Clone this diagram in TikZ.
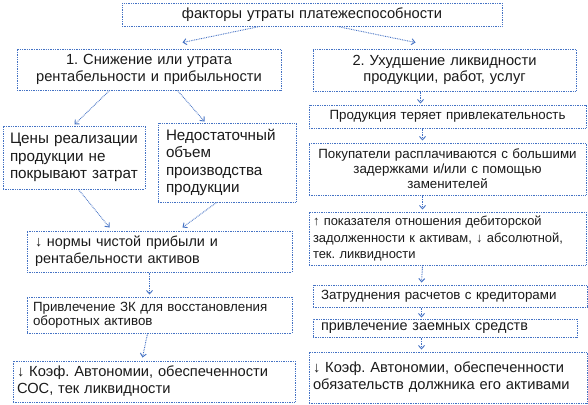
\documentclass[tikz,border=0pt]{standalone}
\usepackage{fontspec}
\setmainfont{Liberation Sans}
\usetikzlibrary{calc,arrows.meta}
\definecolor{bl}{HTML}{4472C4}
\definecolor{tx}{HTML}{1A1A1A}
\frenchspacing
\tikzset{
  box/.style={draw=bl, dash pattern=on 0.6pt off 0.7pt, line width=0.75pt, inner sep=0pt, text=tx},
  conn/.style={draw=bl, dash pattern=on 0.6pt off 0.7pt, line width=0.7pt, -{Straight Barb[length=2.5pt,width=4.5pt]}},
}
\begin{document}
\begin{tikzpicture}[x=0.75pt,y=-0.75pt]
\useasboundingbox (0,0) rectangle (588,404);
% top
\node[box, minimum width=380*0.75pt, minimum height=23*0.75pt, text width=370*0.75pt, align=center, font=\fontsize{11}{12.5}\selectfont] (T) at (312,14.5) {факторы утраты платежеспособности};
\node[box, minimum width=264*0.75pt, minimum height=41*0.75pt, text width=254*0.75pt, align=center, font=\fontsize{11}{12.5}\selectfont] (B1) at (149,69.5) {1. Снижение или утрата\\ рентабельности и прибыльности};
\node[box, minimum width=263*0.75pt, minimum height=42*0.75pt, text width=253*0.75pt, align=center, font=\fontsize{11}{12.5}\selectfont] (B2) at (444.5,70) {2. Ухудшение ликвидности\\ продукции, работ, услуг};
% left column
\node[box, minimum width=142*0.75pt, minimum height=63*0.75pt, inner xsep=7*0.75pt, text width=128*0.75pt, align=left, font=\fontsize{11.4}{13.2}\selectfont] (L1) at (74,157.5) {Цены реализации\\ продукции не\\ покрывают затрат};
\node[box, minimum width=138*0.75pt, minimum height=79*0.75pt, inner xsep=8*0.75pt, text width=122*0.75pt, align=left, font=\fontsize{11.4}{13.2}\selectfont] (L2) at (227,162.5) {Недостаточный\\ объем\\ производства\\ продукции};
\node[box, minimum width=265*0.75pt, minimum height=41*0.75pt, inner xsep=8*0.75pt, text width=249*0.75pt, align=left, font=\fontsize{10.8}{12.6}\selectfont] (L3) at (159.5,251.5) {↓ нормы чистой прибыли и\\ рентабельности активов};
\node[box, minimum width=265*0.75pt, minimum height=36*0.75pt, inner xsep=6*0.75pt, text width=253*0.75pt, align=left, font=\fontsize{10}{10.8}\selectfont] (L4) at (159.5,315) {Привлечение ЗК для восстановления\\ оборотных активов};
\node[box, minimum width=282*0.75pt, minimum height=41*0.75pt, inner xsep=4*0.75pt, text width=274*0.75pt, align=left, font=\fontsize{11}{12.8}\selectfont] (L5) at (154,381.5) {↓ Коэф. Автономии, обеспеченности\\ СОС, тек ликвидности};
% right column
\node[box, minimum width=277*0.75pt, minimum height=23*0.75pt, text width=267*0.75pt, align=center, font=\fontsize{10}{11.5}\selectfont] (R1) at (447.5,116.5) {Продукция теряет привлекательность};
\node[box, minimum width=277*0.75pt, minimum height=52*0.75pt, text width=267*0.75pt, align=center, font=\fontsize{10}{11.3}\selectfont] (R2) at (447.5,169) {Покупатели расплачиваются с большими\\ задержками и/или с помощью\\ заменителей};
\node[box, minimum width=277*0.75pt, minimum height=53*0.75pt, inner xsep=4*0.75pt, text width=269*0.75pt, align=left, font=\fontsize{9.7}{12.2}\selectfont] (R3) at (447.5,238.5) {↑ показателя отношения дебиторской\\ задолженности к активам, ↓ абсолютной,\\ тек. ликвидности};
\node[box, minimum width=274*0.75pt, minimum height=22*0.75pt, inner xsep=8*0.75pt, text width=258*0.75pt, align=left, font=\fontsize{10}{11}\selectfont] (R4) at (450,296) {Затруднения расчетов с кредиторами};
\node[box, minimum width=264*0.75pt, minimum height=18*0.75pt, inner xsep=8*0.75pt, text width=248*0.75pt, align=left, font=\fontsize{10.8}{12}\selectfont] (R5) at (445,328) {привлечение заемных средств};
\node[box, minimum width=278*0.75pt, minimum height=51*0.75pt, inner xsep=4*0.75pt, text width=270*0.75pt, align=left, font=\fontsize{11}{12.8}\selectfont] (R6) at (448,377.5) {↓ Коэф. Автономии, обеспеченности\\ обязательств должника его активами};
% connectors
\draw[conn] ($(T.south west)+(138,0)$) -- ($(B1.north west)+(166,-6)$);
\draw[conn] ($(T.south west)+(216,0)$) -- ($(B2.north west)+(103,-6)$);
\draw[conn] ($(B1.south west)+(93,0)$) -- ($(L1.north west)+(72,-1)$);
\draw[conn] ($(B1.south west)+(161,0)$) -- ($(L2.north west)+(47,-1)$);
\draw[conn] ($(L1.south west)+(76,0)$) -- ($(L3.north west)+(83,-3)$);
\draw[conn] ($(L2.south west)+(59,0)$) -- ($(L3.north west)+(156,-3)$);
\draw[conn] ($(L3.south west)+(123,0)$) -- ($(L4.north west)+(123,-2)$);
\draw[conn] ($(L4.south west)+(121,0)$) -- ($(L5.north west)+(130,-3)$);
\draw[conn] ($(B2.south west)+(108,0)$) -- ($(R1.north west)+(112,-1)$);
\draw[conn] ($(R1.south west)+(114,0)$) -- ($(R2.north west)+(114,-2)$);
\draw[conn] ($(R2.south west)+(114,0)$) -- ($(R3.north west)+(114,-2)$);
\draw[conn] ($(R3.south west)+(114,0)$) -- ($(R4.north west)+(109,-2)$);
\draw[conn] ($(R4.south west)+(109,0)$) -- ($(R5.north west)+(109,-1)$);
\draw[conn] ($(R5.south west)+(109,0)$) -- ($(R6.north west)+(113,-2)$);
\end{tikzpicture}
\end{document}
